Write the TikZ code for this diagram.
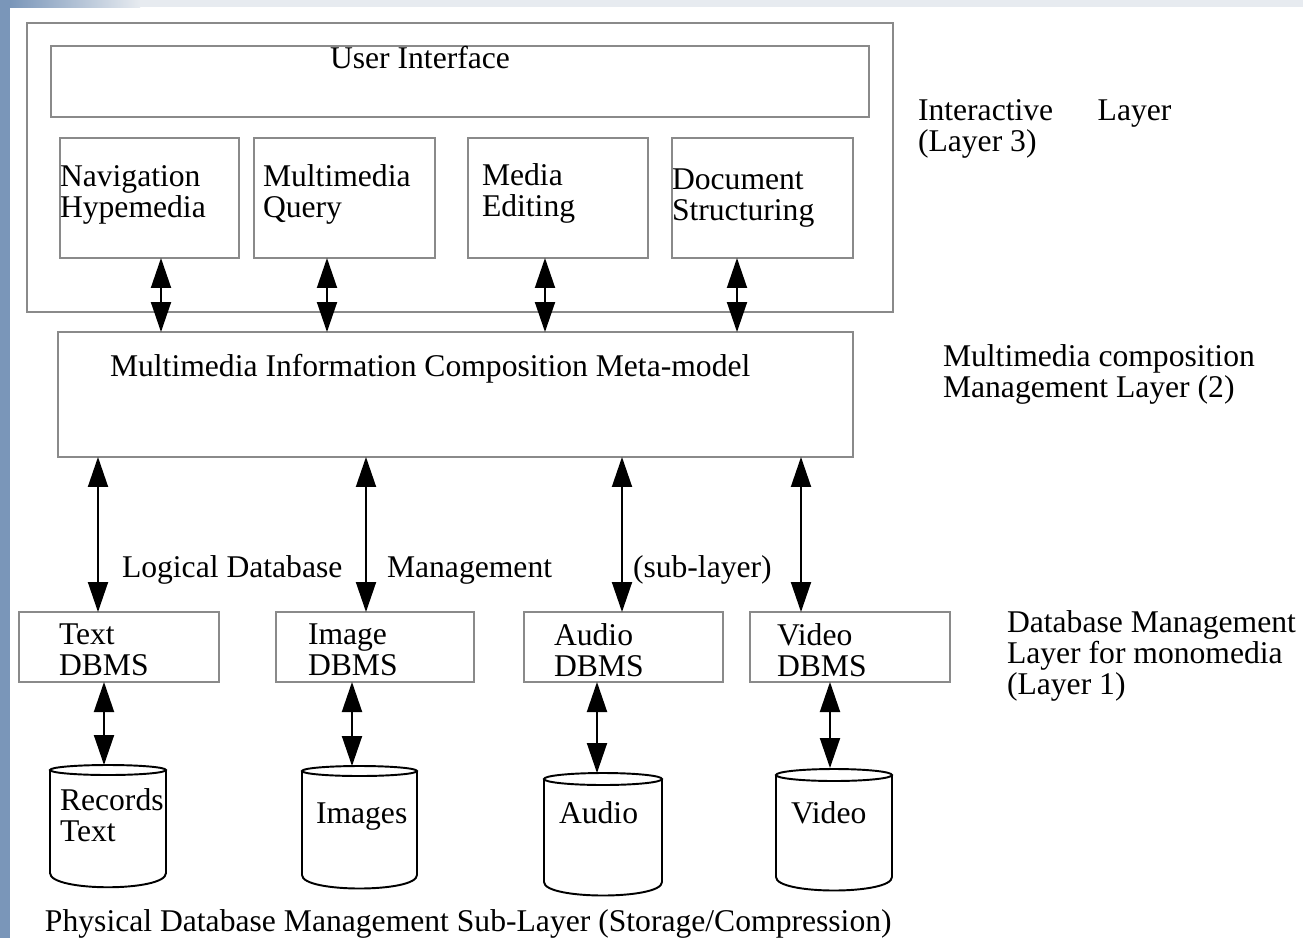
\documentclass[tikz,border=0pt]{standalone}
\usepackage{fontspec}
\setmainfont{Liberation Serif}
\usetikzlibrary{arrows.meta,calc}
\definecolor{boxgray}{HTML}{8A8A8A}
\definecolor{stripblue}{HTML}{7A96B9}
\definecolor{stripgray}{HTML}{E7EBF0}
\begin{document}
\begin{tikzpicture}[x=0.02cm,y=-0.02cm,
  box/.style={draw=boxgray, line width=0.9pt, rectangle, inner sep=0pt, outer sep=0pt},
  lbl/.style={anchor=base west, inner sep=0pt, outer sep=0pt, align=left,
              font=\fontsize{18}{17.6}\selectfont, text=black},
  arr/.style={line width=1.1pt, {Triangle[length=0.6cm,width=0.4cm]}-{Triangle[length=0.6cm,width=0.4cm]}},
  cyl/.style={draw=black, line width=1.1pt},
  cylnode/.style={rectangle, inner sep=0pt, outer sep=0pt}]
% page and slide edges
\useasboundingbox (0,0) rectangle (1303,938);
\fill[white] (0,0) rectangle (1303,938);
\fill[stripgray] (0,0) rectangle (1303,7);
\fill[left color=stripblue, right color=stripgray] (10,0) rectangle (140,7);
\fill[stripblue] (0,0) rectangle (10,938);

% Layer 3
\node[box, minimum width=17.32cm, minimum height=5.78cm] (l3) at (460,167.5) {};
\node[box, minimum width=16.36cm, minimum height=1.42cm] (ui) at (460,81.5) {};
\node[box, minimum width=3.58cm, minimum height=2.4cm] (nav) at (149.5,198) {};
\node[box, minimum width=3.62cm, minimum height=2.4cm] (query) at (344.5,198) {};
\node[box, minimum width=3.6cm, minimum height=2.4cm] (edit) at (558,198) {};
\node[box, minimum width=3.62cm, minimum height=2.4cm] (doc) at (762.5,198) {};

\node[lbl] (uit) at (330,68) {User Interface};
\node[lbl] (navt) at (60,217) {Navigation\\Hypemedia};
\node[lbl] (queryt) at (263,217) {Multimedia\\Query};
\node[lbl] (editt) at (482,216) {Media\\Editing};
\node[lbl] (doct) at (672,220) {Document\\Structuring};

% Layer 2
\node[box, minimum width=15.9cm, minimum height=2.5cm] (meta) at (455.5,394.5) {};
\node[lbl] (metat) at (110,376) {Multimedia Information Composition Meta-model};

% Layer 1
\node[box, minimum width=4.0cm, minimum height=1.4cm] (tdb) at (119,647) {};
\node[box, minimum width=3.96cm, minimum height=1.4cm] (idb) at (375,647) {};
\node[box, minimum width=3.98cm, minimum height=1.4cm] (adb) at (623.5,647) {};
\node[box, minimum width=4.0cm, minimum height=1.4cm] (vdb) at (850,647) {};
\node[lbl] (tdbt) at (59,675) {Text\\DBMS};
\node[lbl] (idbt) at (308,675) {Image\\DBMS};
\node[lbl] (adbt) at (554,676) {Audio\\DBMS};
\node[lbl] (vdbt) at (777,676) {Video\\DBMS};

% arrows layer 3 <-> 2
\draw[arr] (161,0 |- nav.south) -- (161,0 |- meta.north);
\draw[arr] (327,0 |- query.south) -- (327,0 |- meta.north);
\draw[arr] (545,0 |- edit.south) -- (545,0 |- meta.north);
\draw[arr] (737,0 |- doc.south) -- (737,0 |- meta.north);

% arrows layer 2 <-> 1
\draw[arr] (98,0 |- meta.south) -- (98,0 |- tdb.north);
\draw[arr] (366,0 |- meta.south) -- (366,0 |- idb.north);
\draw[arr] (622,0 |- meta.south) -- (622,0 |- adb.north);
\draw[arr] (801,0 |- meta.south) -- (801,0 |- vdb.north);

\node[lbl] (logt) at (122,577) {Logical Database};
\node[lbl] (mgmtt) at (387,577) {Management};
\node[lbl] (subt) at (633,577) {(sub-layer)};

% cylinders
\node[cylnode, minimum width=2.32cm, minimum height=2.44cm] (c1) at (108,826) {};
\draw[cyl] (108,770) ellipse [x radius=1.16cm, y radius=0.1cm];
\draw[cyl] (50,770) -- (50,873) .. controls (50,892) and (166,892) .. (166,873) -- (166,770);
\node[cylnode, minimum width=2.3cm, minimum height=2.44cm] (c2) at (359.5,827) {};
\draw[cyl] (359.5,771) ellipse [x radius=1.15cm, y radius=0.1cm];
\draw[cyl] (302,771) -- (302,875) .. controls (302,893) and (417,893) .. (417,875) -- (417,771);
\node[cylnode, minimum width=2.36cm, minimum height=2.44cm] (c3) at (603,834) {};
\draw[cyl] (603,779) ellipse [x radius=1.18cm, y radius=0.12cm];
\draw[cyl] (544,779) -- (544,882) .. controls (544,900) and (662,900) .. (662,882) -- (662,779);
\node[cylnode, minimum width=2.32cm, minimum height=2.44cm] (c4) at (834,829) {};
\draw[cyl] (834,775) ellipse [x radius=1.16cm, y radius=0.12cm];
\draw[cyl] (776,775) -- (776,877) .. controls (776,895) and (892,895) .. (892,877) -- (892,775);

\node[lbl] (c1t) at (60,841) {Records\\Text};
\node[lbl] (c2t) at (316,823) {Images};
\node[lbl] (c3t) at (559,823) {Audio};
\node[lbl] (c4t) at (791,823) {Video};

% arrows layer 1 <-> storage
\draw[arr] (104,0 |- tdb.south) -- (104,0 |- c1.north);
\draw[arr] (352,0 |- idb.south) -- (352,0 |- c2.north);
\draw[arr] (597,0 |- adb.south) -- (597,0 |- c3.north);
\draw[arr] (830,0 |- vdb.south) -- (830,0 |- c4.north);

\node[lbl] (physt) at (45,931) {Physical Database Management Sub-Layer (Storage/Compression)};

% layer captions
\node[lbl] (cap3) at (918,151) {Interactive\hspace{0.89cm}Layer\\(Layer 3)};
\node[lbl] (cap2) at (943,397) {Multimedia composition\\Management Layer (2)};
\node[lbl] (cap1) at (1007,694) {Database Management\\Layer for monomedia\\(Layer 1)};
\end{tikzpicture}
\end{document}
